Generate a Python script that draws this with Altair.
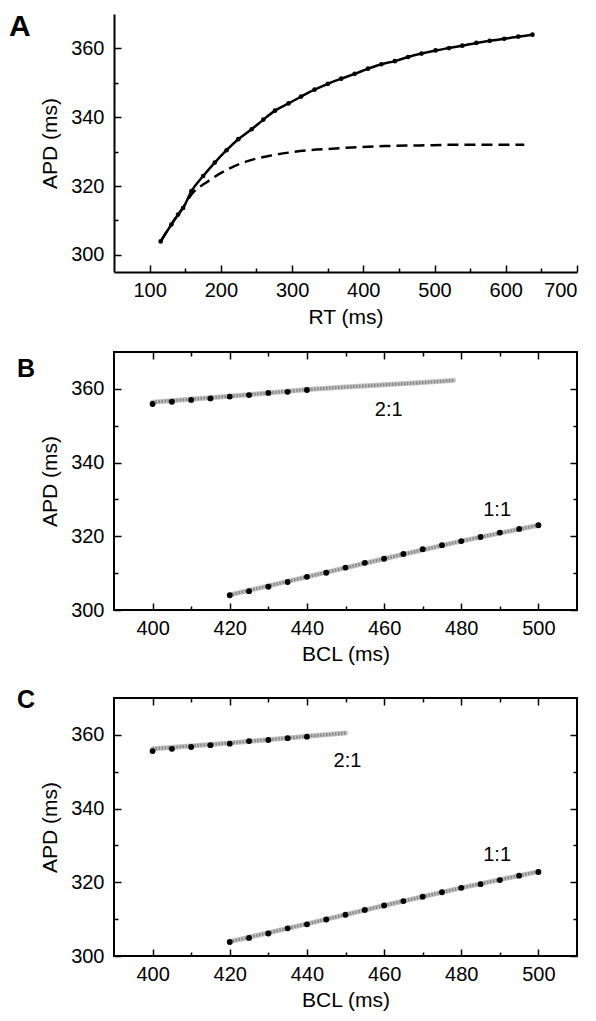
import altair as alt
import pandas as pd

FONT = "Liberation Sans"
W, H = 463, 258

# ---------------- Panel A data ----------------
rt_dots = [115.5, 130.6, 140, 147, 158.7, 175.2, 191.5, 208, 224.5, 243.2, 259.7, 276, 295, 312.7,
           331.5, 350.3, 369, 387.9, 406.6, 425.4, 444.2, 462.9, 481.7, 501.5, 520.3, 539, 558.7,
           577.5, 597.8, 617.5, 637.5]
apd_dots = [303.9, 308.8, 311.7, 313.6, 318.5, 322.9, 326.8, 330.4, 333.6, 336.5, 339.3, 341.9,
            344.0, 346.0, 348.0, 349.7, 351.2, 352.6, 354.1, 355.4, 356.3, 357.5, 358.5, 359.4,
            360.1, 360.8, 361.6, 362.2, 362.8, 363.4, 364.0]
rt_dash = [115.5, 131, 147, 158.7, 182.2, 210.4, 238.6, 266.8, 295, 323, 360.6, 384, 430, 480,
           530, 580, 626]
apd_dash = [303.9, 309.0, 313.8, 317.5, 321.4, 324.9, 327.3, 328.7, 329.7, 330.4, 330.9, 331.2,
            331.6, 331.8, 332.0, 332.0, 332.0]

# ---------------- Panel B data ----------------
bcl_21 = [400, 405, 410, 415, 420, 425, 430, 435, 440]
b_apd_21 = [355.9, 356.5, 357.0, 357.4, 357.9, 358.3, 358.9, 359.2, 359.7]
b_band21_bcl = [400, 410, 420, 430, 440, 450, 460, 470, 478]
b_band21_apd = [356.4, 357.2, 358.0, 358.9, 359.8, 360.5, 361.1, 361.7, 362.3]
bcl_11 = [420, 425, 430, 435, 440, 445, 450, 455, 460, 465, 470, 475, 480, 485, 490, 495, 500]
b_apd_11 = [304.0, 305.1, 306.3, 307.6, 309.0, 310.1, 311.5, 312.8, 313.9, 315.2, 316.5, 317.6,
            318.7, 319.8, 321.0, 322.0, 323.0]
b_band11_bcl = [420, 440, 460, 480, 500]
b_band11_apd = [304.1, 309.0, 313.9, 318.7, 323.0]

# ---------------- Panel C data ----------------
c_apd_21 = [355.6, 356.2, 356.7, 357.2, 357.6, 358.3, 358.6, 359.1, 359.5]
c_band21_bcl = [400, 410, 420, 430, 440, 450]
c_band21_apd = [356.2, 357.0, 357.8, 358.7, 359.6, 360.5]
c_apd_11 = [303.8, 304.9, 306.1, 307.5, 308.6, 309.9, 311.2, 312.5, 313.7, 314.9, 316.1, 317.3,
            318.5, 319.5, 320.6, 321.8, 322.8]
c_band11_bcl = [420, 440, 460, 480, 500]
c_band11_apd = [303.9, 308.7, 313.7, 318.5, 322.9]

ratio_text = ["2:1", "1:1"]
b_text_bcl = [461.2, 489.3]
b_text_apd = [354.3, 327.2]
c_text_bcl = [450.5, 489.3]
c_text_apd = [353.0, 327.5]

panel_letters = ["A", "B", "C"]

# tick values
a_x_major = [100, 200, 300, 400, 500, 600, 700]
a_x_all = [100, 150, 200, 250, 300, 350, 400, 450, 500, 550, 600, 650, 700]
y_major = [300, 320, 340, 360]
y_all = [300, 310, 320, 330, 340, 350, 360]
bc_x_major = [400, 420, 440, 460, 480, 500]
bc_x_all = [400, 410, 420, 430, 440, 450, 460, 470, 480, 490, 500]


def primary_axis(orient, values, title, domain, label_pad, title_pad):
    return alt.Axis(orient=orient, offset=0, values=values, title=title, grid=False,
                    ticks=False, tickSize=0, domain=domain, domainColor="black", domainWidth=2,
                    labelFont=FONT, labelFontSize=20, labelColor="black", labelPadding=label_pad,
                    titleFont=FONT, titleFontSize=21, titleFontWeight="normal", titleColor="black",
                    titlePadding=title_pad)


def tick_axis(orient, offset, values, mod):
    size = {"condition": {"test": f"datum.value % {mod} === 0", "value": 7}, "value": 4}
    return alt.Axis(orient=orient, offset=offset, values=values, title=None, labels=False,
                    domain=False, grid=False, ticks=True, tickColor="black", tickWidth=1.5,
                    tickSize=size)


def sc(lo, hi):
    return alt.Scale(domain=[lo, hi], nice=False, zero=False)


def letter_layer(letter, dx, dy, fs):
    return alt.Chart(pd.DataFrame({"t": [letter]})).mark_text(
        font=FONT, fontSize=fs, fontWeight="bold", align="left", baseline="alphabetic", color="black"
    ).encode(x=alt.value(dx), y=alt.value(dy), text="t:N")


# ---------------- Panel A ----------------
xs_a, ys_a = sc(50, 700), sc(295, 370)
dfa = pd.DataFrame({"rt": rt_dots, "apd": apd_dots})
dfd = pd.DataFrame({"rt": rt_dash, "apd": apd_dash})

a_solid = alt.Chart(dfa).mark_line(color="black", strokeWidth=2.5, interpolate="monotone").encode(
    x=alt.X("rt:Q", scale=xs_a, axis=primary_axis("bottom", a_x_major, "RT (ms)", True, 8, 6)),
    y=alt.Y("apd:Q", scale=ys_a, axis=primary_axis("left", y_major, "APD (ms)", True, 10, 10)),
)
a_dash = alt.Chart(dfd).mark_line(color="black", strokeWidth=2.5, strokeDash=[11, 6],
                                  interpolate="monotone").encode(
    x=alt.X("rt:Q", scale=xs_a, axis=None),
    y=alt.Y("apd:Q", scale=ys_a, axis=None),
)
a_dots = alt.Chart(dfa).mark_circle(color="black", size=22, opacity=1).encode(
    x=alt.X("rt:Q", scale=xs_a, axis=tick_axis("top", -H, a_x_all, 100)),
    y=alt.Y("apd:Q", scale=ys_a, axis=tick_axis("right", -W, y_all, 20)),
)
panel_a = alt.layer(a_solid, a_dash, a_dots,
                    letter_layer(panel_letters[0], -105, 22, 30)).resolve_scale(
    x="independent", y="independent").properties(
    width=W, height=H, view=alt.ViewBackground(stroke="transparent"))


# ---------------- Panels B and C ----------------
def bcl_panel(letter, ldx, ldy, band21_bcl, band21_apd, apd21, band11_bcl, band11_apd, apd11,
              txt_bcl, txt_apd):
    xs, ys = sc(390, 510), sc(300, 370)
    band = pd.DataFrame({
        "bcl": band21_bcl + band11_bcl,
        "apd": band21_apd + band11_apd,
        "s": ["2:1"] * len(band21_bcl) + ["1:1"] * len(band11_bcl),
    })
    dots = pd.DataFrame({
        "bcl": bcl_21 + bcl_11,
        "apd": apd21 + apd11,
    })
    txt = pd.DataFrame({"bcl": txt_bcl, "apd": txt_apd, "t": ratio_text})

    base_band = alt.Chart(band).mark_line(color="#c2c2c2", strokeWidth=5, strokeCap="round").encode(
        x=alt.X("bcl:Q", scale=xs, axis=primary_axis("bottom", bc_x_major, "BCL (ms)", False, 8, 5)),
        y=alt.Y("apd:Q", scale=ys, axis=primary_axis("left", y_major, "APD (ms)", False, 10, 10)),
        detail="s:N",
    )
    hatch = alt.Chart(band).mark_line(color="#858585", strokeWidth=3, strokeDash=[1.5, 1.5]).encode(
        x=alt.X("bcl:Q", scale=xs, axis=None),
        y=alt.Y("apd:Q", scale=ys, axis=None),
        detail="s:N",
    )
    pts = alt.Chart(dots).mark_circle(color="black", size=34, opacity=1).encode(
        x=alt.X("bcl:Q", scale=xs, axis=tick_axis("top", -H, bc_x_all, 20)),
        y=alt.Y("apd:Q", scale=ys, axis=tick_axis("right", -W, y_all, 20)),
    )
    labels = alt.Chart(txt).mark_text(font=FONT, fontSize=20, color="black").encode(
        x=alt.X("bcl:Q", scale=xs, axis=tick_axis("bottom", -H, bc_x_all, 20)),
        y=alt.Y("apd:Q", scale=ys, axis=tick_axis("left", -W, y_all, 20)),
        text="t:N",
    )
    return alt.layer(base_band, hatch, pts, labels,
                     letter_layer(letter, ldx, ldy, 25)).resolve_scale(
        x="independent", y="independent").properties(
        width=W, height=H, view=alt.ViewBackground(stroke="black", strokeWidth=2))


panel_b = bcl_panel(panel_letters[1], -97, 25, b_band21_bcl, b_band21_apd, b_apd_21,
                    b_band11_bcl, b_band11_apd, b_apd_11, b_text_bcl, b_text_apd)
panel_c = bcl_panel(panel_letters[2], -97, 10, c_band21_bcl, c_band21_apd, c_apd_21,
                    c_band11_bcl, c_band11_apd, c_apd_11, c_text_bcl, c_text_apd)

chart = alt.vconcat(panel_a, panel_b, panel_c, spacing=22).properties(
    padding={"left": 0, "top": 3, "right": 5, "bottom": 0}
).configure(background="white")

chart.save("out.html", embed_options={"renderer": "svg", "actions": False})
